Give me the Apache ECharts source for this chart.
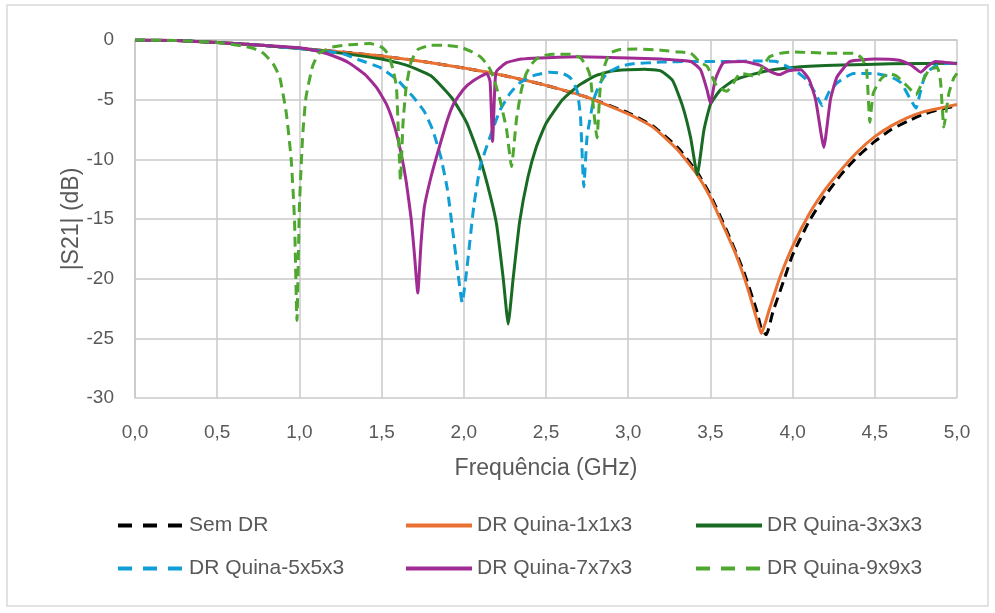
<!DOCTYPE html>
<html>
<head>
<meta charset="utf-8">
<script src="https://cdn.jsdelivr.net/npm/echarts@6/dist/echarts.min.js"></script>
<style>
  html, body { margin: 0; padding: 0; background: #fff; }
  #chart { width: 995px; height: 613px; }
</style>
</head>
<body>
<div id="chart"></div>
<script>
// pontos: [frequência GHz, |S21| dB]
const semDR = [[0,0],[0.25,-0.05],[0.5,-0.2],[0.75,-0.42],[1.0,-0.7],[1.25,-1.0],[1.5,-1.35],[1.75,-1.8],[2.0,-2.35],[2.25,-3.0],[2.5,-3.8],[2.75,-4.8],[3.0,-6.1],[3.15,-7.2],[3.3,-9.0],[3.42,-11.1],[3.5,-13.0],[3.6,-16.0],[3.7,-19.3],[3.78,-22.6],[3.81,-24.2],[3.84,-24.7],[3.88,-22.8],[3.95,-20.0],[4.0,-18.0],[4.1,-15.2],[4.2,-13.0],[4.3,-11.2],[4.4,-9.7],[4.5,-8.5],[4.6,-7.5],[4.7,-6.8],[4.8,-6.2],[4.9,-5.8],[5.0,-5.5]];
const quina1 = [[0,0],[0.25,-0.05],[0.5,-0.2],[0.75,-0.42],[1.0,-0.7],[1.25,-1.0],[1.5,-1.35],[1.75,-1.8],[2.0,-2.35],[2.25,-3.0],[2.5,-3.8],[2.75,-4.8],[3.0,-6.2],[3.15,-7.3],[3.3,-9.2],[3.42,-11.3],[3.5,-13.2],[3.56,-15.0],[3.65,-17.8],[3.72,-20.5],[3.78,-23.3],[3.81,-24.6],[3.86,-22.5],[3.92,-20.0],[4.0,-17.3],[4.1,-14.6],[4.2,-12.5],[4.3,-10.8],[4.4,-9.3],[4.5,-8.1],[4.6,-7.2],[4.7,-6.5],[4.8,-6.0],[4.9,-5.7],[5.0,-5.4]];
const quina3 = [[0,0],[0.25,-0.05],[0.5,-0.2],[0.75,-0.42],[1.0,-0.72],[1.25,-1.1],[1.5,-1.6],[1.65,-2.1],[1.8,-3.0],[1.93,-4.9],[2.02,-7.0],[2.1,-10.0],[2.16,-13.0],[2.2,-15.5],[2.24,-20.0],[2.27,-23.8],[2.3,-20.0],[2.34,-15.2],[2.39,-11.5],[2.44,-9.0],[2.5,-7.0],[2.6,-5.0],[2.7,-3.8],[2.8,-3.0],[2.9,-2.6],[3.0,-2.5],[3.1,-2.45],[3.2,-2.6],[3.27,-3.4],[3.33,-5.5],[3.38,-8.2],[3.42,-11.3],[3.46,-7.6],[3.5,-5.4],[3.56,-4.2],[3.64,-3.4],[3.75,-2.9],[3.88,-2.5],[4.0,-2.3],[4.1,-2.2],[4.3,-2.1],[4.6,-2.0],[5.0,-1.95]];
const quina5 = [[0,0],[0.25,-0.05],[0.5,-0.2],[0.75,-0.42],[1.0,-0.72],[1.25,-1.1],[1.37,-1.7],[1.49,-2.3],[1.6,-3.4],[1.7,-4.9],[1.76,-6.0],[1.81,-7.5],[1.86,-9.8],[1.9,-12.5],[1.93,-15.7],[1.96,-19.0],[1.99,-22.0],[2.02,-19.0],[2.06,-14.0],[2.1,-10.6],[2.16,-8.1],[2.22,-5.9],[2.28,-4.5],[2.34,-3.6],[2.42,-3.0],[2.52,-2.7],[2.6,-2.8],[2.65,-3.2],[2.69,-4.3],[2.71,-6.5],[2.73,-12.3],[2.75,-8.1],[2.79,-5.0],[2.83,-3.6],[2.87,-2.8],[2.95,-2.2],[3.03,-2.0],[3.2,-1.85],[3.4,-1.8],[3.6,-1.8],[3.8,-1.75],[3.9,-1.8],[3.95,-2.1],[4.02,-2.6],[4.09,-3.4],[4.14,-4.5],[4.18,-5.5],[4.22,-4.4],[4.27,-3.6],[4.37,-2.8],[4.5,-2.8],[4.6,-3.1],[4.66,-3.6],[4.71,-4.8],[4.75,-5.7],[4.78,-4.2],[4.81,-2.8],[4.88,-2.1],[4.95,-1.95],[5.0,-2.0]];
const quina7 = [[0,0],[0.25,-0.05],[0.5,-0.2],[0.75,-0.42],[1.0,-0.65],[1.1,-0.9],[1.2,-1.3],[1.3,-1.9],[1.4,-2.9],[1.47,-4.0],[1.53,-5.4],[1.58,-7.3],[1.62,-9.6],[1.65,-11.9],[1.68,-15.0],[1.7,-18.0],[1.72,-21.2],[1.74,-17.0],[1.76,-14.0],[1.8,-11.5],[1.84,-9.5],[1.9,-6.7],[1.94,-5.3],[2.0,-4.1],[2.06,-3.4],[2.14,-2.8],[2.16,-3.5],[2.175,-8.5],[2.19,-3.5],[2.2,-2.6],[2.26,-1.9],[2.35,-1.6],[2.46,-1.5],[2.7,-1.4],[3.0,-1.5],[3.2,-1.6],[3.38,-1.8],[3.44,-2.5],[3.48,-4.2],[3.5,-5.3],[3.53,-3.3],[3.58,-1.9],[3.7,-1.8],[3.8,-2.1],[3.86,-2.6],[3.92,-2.9],[3.97,-2.6],[4.05,-2.5],[4.1,-3.3],[4.14,-5.0],[4.19,-9.0],[4.23,-5.0],[4.27,-3.1],[4.35,-1.8],[4.5,-1.6],[4.65,-1.7],[4.72,-2.1],[4.78,-2.7],[4.82,-2.2],[4.87,-1.8],[5.0,-2.0]];
const quina9 = [[0,0],[0.25,-0.05],[0.5,-0.2],[0.65,-0.5],[0.72,-0.7],[0.78,-1.1],[0.84,-2.0],[0.88,-3.1],[0.92,-6.1],[0.95,-10.0],[0.97,-15.0],[0.985,-23.5],[1.0,-14.0],[1.02,-8.0],[1.04,-4.8],[1.08,-2.2],[1.12,-1.1],[1.2,-0.6],[1.3,-0.4],[1.43,-0.3],[1.5,-0.6],[1.54,-1.2],[1.57,-2.5],[1.59,-3.9],[1.6,-7.0],[1.615,-11.8],[1.63,-7.0],[1.65,-3.9],[1.68,-1.8],[1.72,-0.8],[1.8,-0.45],[1.9,-0.45],[1.98,-0.6],[2.05,-1.0],[2.1,-1.4],[2.15,-2.2],[2.18,-3.1],[2.22,-5.0],[2.26,-7.5],[2.29,-10.6],[2.32,-6.7],[2.35,-4.2],[2.38,-2.8],[2.42,-1.9],[2.46,-1.4],[2.54,-1.2],[2.65,-1.2],[2.71,-1.5],[2.75,-2.3],[2.77,-3.1],[2.79,-5.9],[2.81,-8.2],[2.83,-4.0],[2.86,-2.0],[2.89,-1.1],[2.95,-0.8],[3.05,-0.75],[3.2,-0.85],[3.3,-1.0],[3.38,-1.1],[3.44,-1.9],[3.48,-2.2],[3.54,-3.9],[3.6,-4.3],[3.64,-3.6],[3.68,-2.8],[3.73,-2.9],[3.78,-3.1],[3.82,-2.2],[3.86,-1.4],[3.93,-1.1],[4.0,-1.0],[4.1,-1.05],[4.2,-1.1],[4.3,-1.1],[4.37,-1.1],[4.42,-1.5],[4.45,-2.5],[4.47,-6.9],[4.49,-4.5],[4.53,-3.4],[4.58,-2.8],[4.63,-3.0],[4.7,-3.9],[4.75,-4.6],[4.79,-3.5],[4.83,-2.5],[4.88,-2.3],[4.9,-3.5],[4.92,-7.3],[4.95,-4.5],[4.98,-3.2],[5.0,-2.8]];

const nomes = ['Sem DR', 'DR Quina-1x1x3', 'DR Quina-3x3x3', 'DR Quina-5x5x3', 'DR Quina-7x7x3', 'DR Quina-9x9x3'];
const cores = ['#000000', '#E97132', '#196B24', '#0F9ED5', '#A02B93', '#4EA72E'];
const dados = [semDR, quina1, quina3, quina5, quina7, quina9];
const tracejado = [true, false, false, true, false, true];

const chart = echarts.init(document.getElementById('chart'));

const eixoFonte = { fontFamily: 'Liberation Sans, Arial, sans-serif', color: '#595959' };

function itemLegenda(i) {
  return {
    name: nomes[i],
    lineStyle: { width: 4, type: tracejado[i] ? [14, 11] : 'solid' }
  };
}

function legenda(left, idx) {
  return {
    orient: 'vertical',
    left: left,
    top: 510,
    itemWidth: 66,
    itemHeight: 14,
    itemGap: 22,
    data: idx.map(itemLegenda),
    itemStyle: { opacity: 0 },
    textStyle: { fontFamily: 'Liberation Sans, Arial, sans-serif', fontSize: 21, color: '#595959' }
  };
}

const option = {
  backgroundColor: '#fff',
  animation: false,
  graphic: [{
    type: 'rect',
    shape: { x: 7, y: 5, width: 981, height: 601 },
    style: { fill: 'none', stroke: '#D9D9D9', lineWidth: 1.5 },
    silent: true
  }],
  grid: { left: 135, right: 38, top: 40, bottom: 215 },
  xAxis: {
    type: 'value', min: 0, max: 5, interval: 0.5,
    name: 'Frequência (GHz)', nameLocation: 'middle', nameGap: 59,
    nameTextStyle: Object.assign({ fontSize: 23 }, eixoFonte),
    axisLine: { show: true, lineStyle: { color: '#C8C8C8', width: 1.5 } },
    axisTick: { show: false },
    splitLine: { show: true, lineStyle: { color: '#C8C8C8', width: 1.5 } },
    axisLabel: Object.assign({ fontSize: 19, margin: 25, formatter: v => v.toFixed(1).replace('.', ',') }, eixoFonte)
  },
  yAxis: {
    type: 'value', min: -30, max: 0, interval: 5,
    name: '|S21| (dB)', nameLocation: 'middle', nameGap: 52, nameRotate: 90,
    nameMoveOverlap: false,
    nameTextStyle: Object.assign({ fontSize: 23 }, eixoFonte),
    axisLine: { show: true, lineStyle: { color: '#C8C8C8', width: 1.5 } },
    axisTick: { show: false },
    splitLine: { show: true, lineStyle: { color: '#C8C8C8', width: 1.5 } },
    axisLabel: Object.assign({ fontSize: 19, margin: 21 }, eixoFonte)
  },
  legend: [
    legenda(111, [0, 3]),
    legenda(399, [1, 4]),
    legenda(689, [2, 5])
  ],
  series: nomes.map((n, i) => ({
    name: n,
    type: 'line',
    data: dados[i],
    showSymbol: false,
    symbol: 'none',
    smooth: 0.15,
    color: cores[i],
    lineStyle: { color: cores[i], width: 3, type: tracejado[i] ? [10, 6] : 'solid' }
  }))
};

chart.setOption(option);
</script>
</body>
</html>
